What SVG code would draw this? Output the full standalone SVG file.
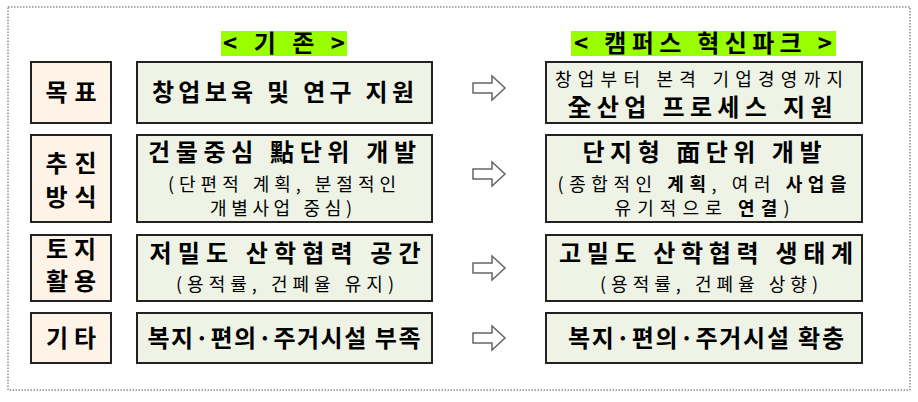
<svg xmlns="http://www.w3.org/2000/svg" width="918" height="402" viewBox="0 0 918 402">
<style>
text{font-family:"Noto Sans CJK KR","Noto Sans",sans-serif;text-anchor:middle;fill:#000}
.lab{fill:#fdf3e7;stroke:#222;stroke-width:2}
.box{fill:#eef3e6;stroke:#222;stroke-width:2}
.m{font-size:24px;font-weight:bold}
.s{font-size:18px}
.hl{fill:#99ff00}
.arr{fill:#fff;stroke:#666;stroke-width:1.5}
</style>
<rect x="8" y="7" width="902" height="383" fill="#fff" stroke="#555" stroke-dasharray="1.5,1.5"/>
<g id="hdr-left"><rect class="hl" x="221" y="31" width="126" height="25"/><text class="m" x="284" y="52" font-weight="normal" textLength="122" lengthAdjust="spacing">&lt; 기 존 &gt;</text></g>
<g id="hdr-right"><rect class="hl" x="571" y="31" width="265" height="25"/><text class="m" x="703" y="52" textLength="258" lengthAdjust="spacing">&lt; 캠퍼스 혁신파크 &gt;</text></g>
<g id="row1">
<rect class="lab" x="31" y="62" width="80" height="61"/><text class="m" x="71" y="101" textLength="51" lengthAdjust="spacing">목표</text>
<rect class="box" x="137" y="62" width="295" height="61"/><text class="m" x="283" y="101" textLength="262" lengthAdjust="spacing">창업보육 및 연구 지원</text>
<rect class="box" x="546" y="62" width="316" height="61"/><text class="s" x="699" y="86" textLength="288" lengthAdjust="spacing">창업부터 본격 기업경영까지</text><text class="m" x="700" y="116" textLength="265" lengthAdjust="spacing">全산업 프로세스 지원</text>
</g>
<g id="row2">
<rect class="lab" x="31" y="135" width="80" height="87"/><text class="m" x="71" y="172" textLength="51" lengthAdjust="spacing">추진</text><text class="m" x="71" y="206" textLength="51" lengthAdjust="spacing">방식</text>
<rect class="box" x="137" y="135" width="295" height="87"/><text class="m" x="282" y="161" textLength="268" lengthAdjust="spacing">건물중심 點단위 개발</text><text class="s" x="282" y="191" textLength="228" lengthAdjust="spacing">(단편적 계획, 분절적인</text><text class="s" x="281" y="215" textLength="142" lengthAdjust="spacing">개별사업 중심)</text>
<rect class="box" x="546" y="135" width="316" height="87"/><text class="m" x="702" y="161" textLength="239" lengthAdjust="spacing">단지형 面단위 개발</text><text class="s" x="702" y="191" textLength="289" lengthAdjust="spacing">(종합적인 <tspan font-weight="bold">계획</tspan>, 여러 <tspan font-weight="bold">사업을</tspan></text><text class="s" x="702" y="215" textLength="175" lengthAdjust="spacing">유기적으로 <tspan font-weight="bold">연결</tspan>)</text>
</g>
<g id="row3">
<rect class="lab" x="31" y="235" width="80" height="66"/><text class="m" x="71" y="258" textLength="50" lengthAdjust="spacing">토지</text><text class="m" x="71" y="290" textLength="50" lengthAdjust="spacing">활용</text>
<rect class="box" x="137" y="235" width="295" height="66"/><text class="m" x="285" y="262" textLength="271" lengthAdjust="spacing">저밀도 산학협력 공간</text><text class="s" x="285" y="291" textLength="218" lengthAdjust="spacing">(용적률, 건폐율 유지)</text>
<rect class="box" x="546" y="235" width="316" height="66"/><text class="m" x="706" y="262" textLength="294" lengthAdjust="spacing">고밀도 산학협력 생태계</text><text class="s" x="709" y="291" textLength="218" lengthAdjust="spacing">(용적률, 건폐율 상향)</text>
</g>
<g id="row4">
<rect class="lab" x="31" y="313" width="80" height="50"/><text class="m" x="71" y="347" textLength="50" lengthAdjust="spacing">기타</text>
<rect class="box" x="137" y="313" width="295" height="50"/><text class="m" x="284" y="347" textLength="273" lengthAdjust="spacing">복지·편의·주거시설 부족</text>
<rect class="box" x="546" y="313" width="316" height="50"/><text class="m" x="706" y="347" textLength="276" lengthAdjust="spacing">복지·편의·주거시설 확충</text>
</g>
<g id="connectors">
<path class="arr" d="M473,83 h19 v-7 l13,12 l-13,12 v-7 h-19 z"/>
<path class="arr" d="M473,169 h19 v-7 l13,12 l-13,12 v-7 h-19 z"/>
<path class="arr" d="M473,263 h19 v-7 l13,12 l-13,12 v-7 h-19 z"/>
<path class="arr" d="M473,333 h19 v-7 l13,12 l-13,12 v-7 h-19 z"/>
</g>
</svg>
